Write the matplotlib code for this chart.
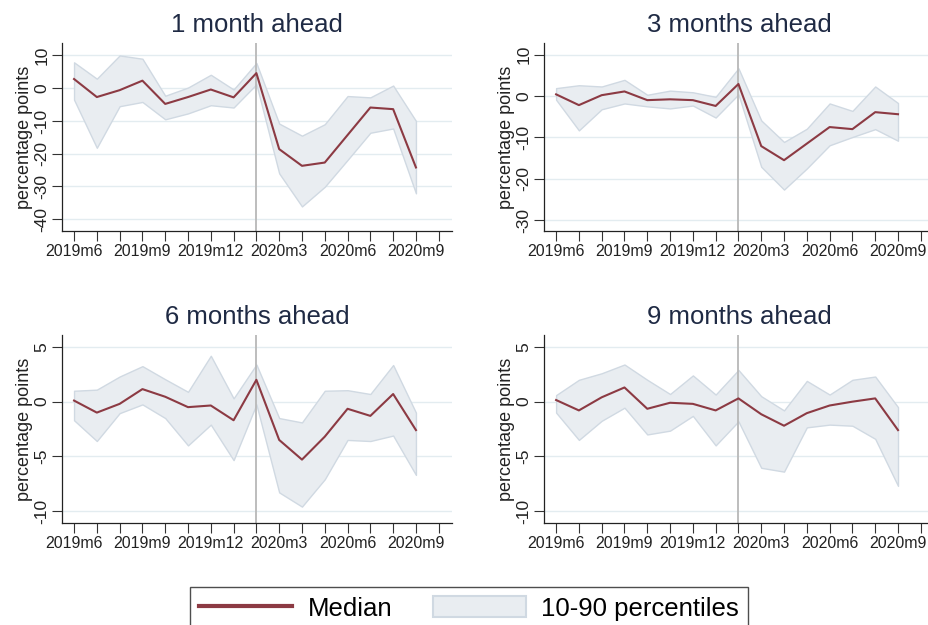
import numpy as np
import matplotlib
matplotlib.use("Agg")
import matplotlib.pyplot as plt
from matplotlib.lines import Line2D
from matplotlib.patches import Patch

plt.rcParams['font.family'] = ['Liberation Sans', 'DejaVu Sans']

# months 2019m6 .. 2020m10 (ticks), data 2019m6 .. 2020m9
tick_months = ['2019m6', '2019m7', '2019m8', '2019m9', '2019m10', '2019m11', '2019m12',
               '2020m1', '2020m2', '2020m3', '2020m4', '2020m5', '2020m6', '2020m7',
               '2020m8', '2020m9', '2020m10']
labelled = ['2019m6', '2019m9', '2019m12', '2020m3', '2020m6', '2020m9']
covid_month = '2020m2'

titles = ['1 month ahead', '3 months ahead', '6 months ahead', '9 months ahead']

med_1m = [2.8, -2.7, -0.6, 2.3, -4.8, -2.7, -0.4, -2.8, 4.6, -18.6, -23.7, -22.7, -14.3, -5.9, -6.4, -24.2]
hi_1m = [7.9, 2.9, 10.0, 9.0, -2.3, 0.2, 4.1, -0.4, 7.7, -10.8, -14.5, -11.0, -2.4, -2.8, 0.8, -10.0]
lo_1m = [-3.5, -18.2, -5.5, -4.2, -9.5, -7.7, -5.2, -5.9, 1.2, -26.0, -36.1, -30.1, -21.9, -13.6, -12.3, -32.1]

med_3m = [0.4, -2.2, 0.2, 1.1, -1.0, -0.8, -1.0, -2.4, 2.9, -12.1, -15.5, -11.5, -7.5, -8.0, -3.9, -4.4]
hi_3m = [1.9, 2.6, 2.3, 3.9, 0.3, 1.3, 0.9, -0.2, 6.7, -5.9, -11.1, -7.9, -1.8, -3.6, 2.3, -1.7]
lo_3m = [-0.9, -8.3, -3.2, -1.8, -2.5, -3.0, -2.3, -5.2, 0.4, -17.1, -22.6, -17.5, -11.9, -9.9, -8.0, -10.8]

med_6m = [0.1, -1.0, -0.2, 1.15, 0.45, -0.5, -0.35, -1.7, 2.0, -3.5, -5.3, -3.2, -0.65, -1.3, 0.7, -2.6]
hi_6m = [1.0, 1.1, 2.3, 3.25, 2.05, 0.9, 4.2, 0.3, 3.4, -1.5, -1.9, 1.0, 1.05, 0.7, 3.35, -1.0]
lo_6m = [-1.7, -3.6, -1.05, -0.25, -1.5, -4.0, -2.1, -5.35, -0.25, -8.3, -9.6, -7.1, -3.5, -3.6, -3.1, -6.7]

med_9m = [0.15, -0.8, 0.4, 1.3, -0.65, -0.1, -0.2, -0.8, 0.3, -1.15, -2.2, -1.05, -0.35, 0.0, 0.3, -2.6]
hi_9m = [0.6, 2.0, 2.6, 3.4, 2.0, 0.7, 2.4, 0.65, 2.9, 0.5, -0.8, 1.9, 0.65, 2.0, 2.3, -0.5]
lo_9m = [-1.0, -3.5, -1.75, -0.55, -3.0, -2.65, -1.3, -4.0, -1.8, -6.05, -6.4, -2.35, -2.1, -2.2, -3.4, -7.7]

yticks_list = [[-40, -30, -20, -10, 0, 10], [-30, -20, -10, 0, 10], [-10, -5, 0, 5], [-10, -5, 0, 5]]
ylims = [(-43.6, 13.8), (-32.6, 12.8), (-11.1, 6.1), (-11.1, 6.1)]

series = [(med_1m, hi_1m, lo_1m), (med_3m, hi_3m, lo_3m),
          (med_6m, hi_6m, lo_6m), (med_9m, hi_9m, lo_9m)]

MED_COLOR = '#8c3a43'
BAND_FACE = '#e9edf1'
BAND_EDGE = '#d0d9e2'
GRID_COLOR = '#e3ecf0'
TITLE_COLOR = '#1f2a44'

fig = plt.figure(figsize=(9.29, 6.25), dpi=100)

# axes rectangles in figure fraction
W, H = 0.4198, 0.3008
positions = [(0.0667, 0.6304), (0.5856, 0.6304), (0.0667, 0.1632), (0.5856, 0.1632)]

x_all = np.arange(len(tick_months))
for i in range(4):
    ax = fig.add_axes([positions[i][0], positions[i][1], W, H])
    med, hi, lo = series[i]
    x = x_all[:len(med)]

    for yt in yticks_list[i]:
        ax.axhline(yt, color=GRID_COLOR, lw=1.0, zorder=0)
    ax.fill_between(x, lo, hi, facecolor=BAND_FACE, edgecolor=BAND_EDGE, lw=1.0, zorder=1)
    ax.plot(x, med, color=MED_COLOR, lw=1.5, zorder=3)
    ax.axvline(tick_months.index(covid_month), color='#b8b8b8', lw=1.3, zorder=2)

    ax.set_xlim(-0.53, 16.58)
    ax.set_ylim(*ylims[i])
    ax.set_xticks(x_all)
    ax.set_xticklabels([m if m in labelled else '' for m in tick_months], fontsize=11.5, color='#222222')
    ax.set_yticks(yticks_list[i])
    ax.set_yticklabels([str(v) for v in yticks_list[i]], fontsize=12.5, color='#222222',
                       rotation=90, va='center')
    ax.tick_params(axis='both', direction='out', length=7, width=0.8, color='#333333', pad=2)
    ax.set_ylabel('percentage points', fontsize=13, color='#222222', labelpad=1)
    ax.set_title(titles[i], fontsize=18.5, color=TITLE_COLOR, pad=8)

    for s in ['top', 'right']:
        ax.spines[s].set_visible(False)
    for s in ['left', 'bottom']:
        ax.spines[s].set_color('#222222')
        ax.spines[s].set_linewidth(0.9)

handles = [Line2D([0], [0], color=MED_COLOR, lw=3),
           Patch(facecolor=BAND_FACE, edgecolor=BAND_EDGE, lw=1.5)]
leg = fig.legend(handles, ['Median', '10-90 percentiles'], loc='upper center',
                 bbox_to_anchor=(0.505, 0.0608), ncol=2, fontsize=18.5,
                 frameon=True, fancybox=False, edgecolor='#222222',
                 handlelength=3.6, handleheight=0.9, handletextpad=0.6,
                 columnspacing=1.6, borderpad=0.35, borderaxespad=0)
leg.get_frame().set_linewidth(1.0)

fig.savefig('out.png', dpi=100)
